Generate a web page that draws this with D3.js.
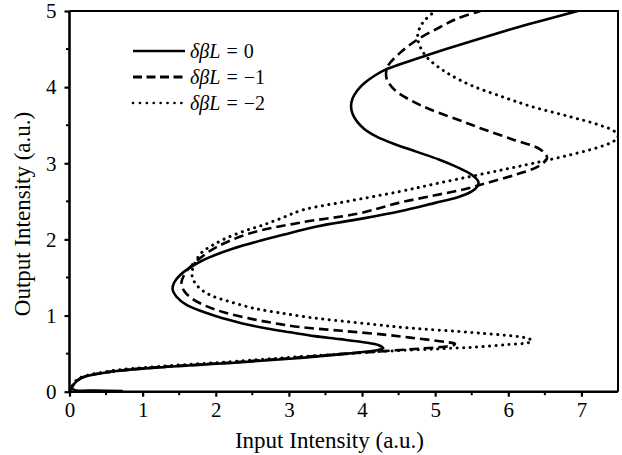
<!DOCTYPE html>
<html>
<head>
<meta charset="utf-8">
<script src="https://cdn.jsdelivr.net/npm/d3@7"></script>
<style>
  html, body { margin: 0; padding: 0; background: #fff; }
  svg { display: block; }
  text { font-family: "Liberation Serif", "Times New Roman", serif; fill: #000; }
</style>
</head>
<body>
<svg id="chart" width="622" height="455"></svg>
<script>
// Output intensity (y) and the corresponding input intensity (x) along each curve
const outSolid = [0.01, 0.015, 0.02, 0.05, 0.10, 0.18, 0.26, 0.32, 0.38, 0.44, 0.50, 0.54, 0.57, 0.61, 0.65, 0.69, 0.73, 0.78, 0.83, 0.90, 0.99, 1.14, 1.25, 1.34, 1.43, 1.53, 1.71, 1.88, 2.06, 2.17, 2.27, 2.37, 2.48, 2.55, 2.63, 2.70, 2.76, 2.85, 2.95, 3.05, 3.15, 3.25, 3.35, 3.45, 3.55, 3.65, 3.75, 3.85, 3.95, 4.05, 4.15, 4.23, 4.30, 4.40, 4.50, 4.62, 4.75, 4.88, 5.00];
const inSolid  = [0.73, 0.35, 0.08, 0.03, 0.06, 0.16, 0.55, 1.24, 2.25, 3.11, 3.80, 4.18, 4.29, 4.23, 4.02, 3.70, 3.35, 3.02, 2.70, 2.35, 2.01, 1.60, 1.46, 1.41, 1.43, 1.51, 1.79, 2.24, 2.92, 3.38, 3.98, 4.52, 5.00, 5.30, 5.50, 5.58, 5.59, 5.50, 5.30, 5.05, 4.75, 4.45, 4.20, 4.03, 3.93, 3.87, 3.85, 3.87, 3.93, 4.03, 4.17, 4.32, 4.52, 4.83, 5.15, 5.55, 6.00, 6.48, 6.95];

const outDash = [0.00, 0.05, 0.10, 0.18, 0.26, 0.32, 0.38, 0.44, 0.49, 0.53, 0.57, 0.59, 0.61, 0.63, 0.65, 0.70, 0.75, 0.80, 0.85, 0.90, 0.96, 1.04, 1.12, 1.22, 1.32, 1.42, 1.52, 1.66, 1.78, 1.90, 2.08, 2.22, 2.34, 2.48, 2.58, 2.66, 2.74, 2.85, 2.96, 3.07, 3.18, 3.31, 3.46, 3.53, 3.70, 3.83, 3.96, 4.10, 4.20, 4.29, 4.45, 4.62, 4.78, 4.90, 5.00];
const inDash  = [0.00, 0.03, 0.06, 0.16, 0.55, 1.20, 2.15, 3.00, 3.65, 4.25, 4.85, 5.12, 5.25, 5.27, 5.17, 4.75, 4.30, 3.72, 3.15, 2.80, 2.47, 2.12, 1.88, 1.68, 1.57, 1.53, 1.56, 1.67, 1.82, 2.01, 2.47, 3.15, 3.95, 4.50, 5.00, 5.40, 5.70, 6.10, 6.41, 6.53, 6.44, 6.07, 5.62, 5.43, 4.95, 4.66, 4.45, 4.34, 4.33, 4.36, 4.52, 4.75, 5.05, 5.30, 5.62];

const outDot = [0.00, 0.05, 0.10, 0.18, 0.27, 0.33, 0.39, 0.45, 0.50, 0.53, 0.57, 0.59, 0.62, 0.645, 0.67, 0.70, 0.77, 0.84, 0.88, 0.93, 0.98, 1.04, 1.10, 1.18, 1.25, 1.32, 1.40, 1.50, 1.60, 1.70, 1.82, 1.92, 2.02, 2.12, 2.19, 2.28, 2.39, 2.50, 2.63, 2.73, 2.83, 2.92, 3.00, 3.10, 3.20, 3.27, 3.34, 3.42, 3.50, 3.61, 3.75, 3.88, 4.02, 4.16, 4.28, 4.40, 4.52, 4.65, 4.78, 4.88, 5.00];
const inDot  = [0.00, 0.03, 0.05, 0.14, 0.55, 1.20, 2.15, 3.00, 3.80, 4.29, 5.21, 5.62, 6.00, 6.28, 6.32, 6.27, 5.60, 4.60, 4.20, 3.70, 3.25, 2.85, 2.50, 2.20, 1.97, 1.83, 1.74, 1.68, 1.68, 1.72, 1.80, 1.95, 2.15, 2.42, 2.65, 2.90, 3.20, 3.80, 4.52, 5.00, 5.50, 5.95, 6.34, 6.80, 7.20, 7.40, 7.50, 7.45, 7.25, 6.85, 6.30, 5.90, 5.50, 5.21, 5.02, 4.88, 4.80, 4.76, 4.79, 4.86, 5.00];

const legendLabels = ["0", "\u22121", "\u22122"];
const xTicks = [0, 1, 2, 3, 4, 5, 6, 7];
const yTicks = [0, 1, 2, 3, 4, 5];

const serif = "'Liberation Serif', 'Times New Roman', serif";
const svg = d3.select("#chart");
const plotLeft = 69.5, plotRight = 618, plotTop = 11, plotBottom = 391.7;

const x = d3.scaleLinear().domain([0, 7.5]).range([plotLeft, plotRight]);
const y = d3.scaleLinear().domain([0, 5]).range([plotBottom, plotTop]);

svg.append("defs").append("clipPath").attr("id", "plotClip")
  .append("rect").attr("x", plotLeft).attr("y", plotTop - 1)
  .attr("width", plotRight - plotLeft + 1).attr("height", plotBottom - plotTop + 2);

// Curves
const series = [
  { out: outSolid, inp: inSolid, dash: null, width: 2.6 },
  { out: outDash, inp: inDash, dash: "9.5,5", width: 2.6 },
  { out: outDot, inp: inDot, dash: "0.1,6.4", width: 3 }
];

const line = d3.line()
  .x(d => x(d[1]))
  .y(d => y(d[0]))
  .curve(d3.curveCatmullRom.alpha(0.5));

const plot = svg.append("g").attr("clip-path", "url(#plotClip)");
series.forEach((s, i) => {
  const pts = s.out.map((o, k) => [o, s.inp[k]]);
  plot.append("path")
    .attr("d", line(pts))
    .attr("fill", "none")
    .attr("stroke", "#000")
    .attr("stroke-width", s.width)
    .attr("stroke-linecap", i === 2 ? "round" : "butt")
    .attr("stroke-linejoin", "round")
    .attr("stroke-dasharray", s.dash);
});

// Axes
const xAxis = svg.append("g").attr("transform", `translate(0,${plotBottom})`)
  .call(d3.axisBottom(x).tickValues(xTicks).tickSize(5).tickSizeOuter(0).tickPadding(5).tickFormat(d3.format("d")));
const yAxis = svg.append("g").attr("transform", `translate(${plotLeft},0)`)
  .call(d3.axisLeft(y).tickValues(yTicks).tickSize(5).tickSizeOuter(0).tickPadding(8).tickFormat(d3.format("d")));
[xAxis, yAxis].forEach(g => {
  g.attr("font-family", serif).attr("font-size", 21);
  g.select(".domain").remove();
  g.selectAll(".tick line").attr("stroke", "#000").attr("stroke-width", 2.2);
  g.selectAll(".tick text").style("font-family", serif).style("font-size", "21px").attr("fill", "#000");
});

// Minor ticks
const xMinor = d3.range(0.5, 7.5, 1);
const yMinor = d3.range(0.5, 5, 1);
svg.append("g").selectAll("line").data(xMinor).join("line")
  .attr("x1", d => x(d)).attr("x2", d => x(d))
  .attr("y1", plotBottom).attr("y2", plotBottom + 3.5)
  .attr("stroke", "#000").attr("stroke-width", 2);
svg.append("g").selectAll("line").data(yMinor).join("line")
  .attr("y1", d => y(d)).attr("y2", d => y(d))
  .attr("x1", plotLeft).attr("x2", plotLeft - 3.5)
  .attr("stroke", "#000").attr("stroke-width", 2);

// Frame
svg.append("path")
  .attr("d", `M${plotRight},${plotBottom} L${plotRight},${plotTop} L${plotLeft},${plotTop}`)
  .attr("fill", "none").attr("stroke", "#000").attr("stroke-width", 2);
svg.append("path")
  .attr("d", `M${plotLeft},${plotTop} L${plotLeft},${plotBottom} L${plotRight},${plotBottom}`)
  .attr("fill", "none").attr("stroke", "#000").attr("stroke-width", 2.6);

// Axis titles
svg.append("text")
  .attr("x", 329.5).attr("y", 448)
  .attr("text-anchor", "middle")
  .style("font-size", "23px")
  .text("Input Intensity (a.u.)");
svg.append("text")
  .attr("transform", "translate(30,214) rotate(-90)")
  .attr("text-anchor", "middle")
  .style("font-size", "23px")
  .text("Output Intensity (a.u.)");

// Legend
const legend = svg.append("g");
series.forEach((s, i) => {
  const ly = 51 + i * 26;
  legend.append("line")
    .attr("x1", 133).attr("x2", 185).attr("y1", ly).attr("y2", ly)
    .attr("stroke", "#000").attr("stroke-width", i === 1 ? 3 : 2.6)
    .attr("stroke-linecap", i === 2 ? "round" : "butt")
    .attr("stroke-dasharray", i === 1 ? "9,4.5" : (i === 2 ? "0.1,6.8" : null));
  const t = legend.append("text").attr("x", 190).attr("y", ly + 6.5).style("font-size", "20px");
  t.append("tspan").style("font-style", "italic").text("\u03B4\u03B2L");
  t.append("tspan").attr("dx", 6).text("=");
  t.append("tspan").attr("dx", 6).text(legendLabels[i]);
});
</script>
</body>
</html>
